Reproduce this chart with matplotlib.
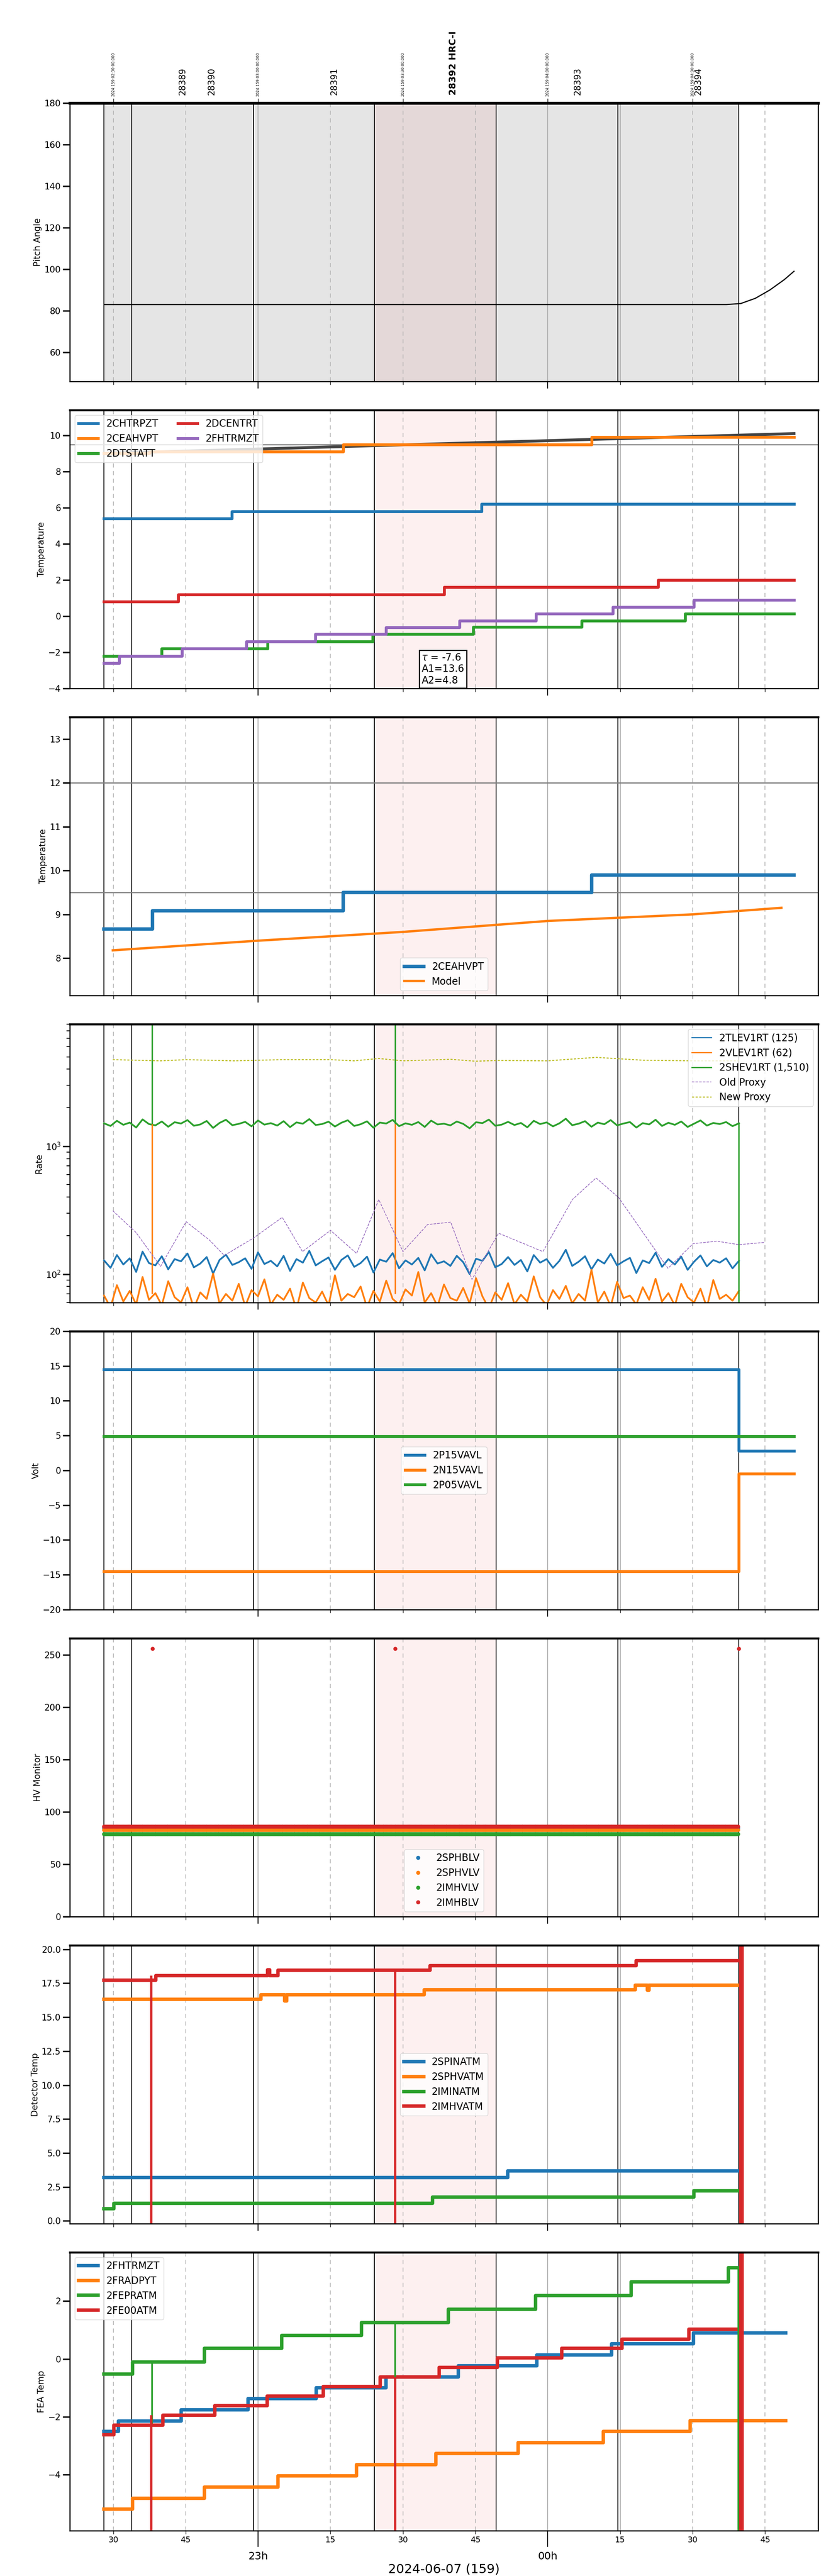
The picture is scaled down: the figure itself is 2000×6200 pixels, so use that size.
import matplotlib
matplotlib.use("Agg")
import matplotlib.pyplot as plt
import numpy as np

NARROW = ["Liberation Sans Narrow", "DejaVu Sans"]
plt.rcParams["font.family"] = ["DejaVu Sans"]

# time axis: minutes after 22:00 on 2024-06-07
xlim = (21.0, 176.0)
events = [28.1, 33.8, 59.0, 84.1, 109.3, 134.5, 159.6]
hrc_span = (84.1, 109.3)
stamp_t = [30, 60, 90, 120, 150]
stamp_lbl = ["2024:159:02:30:00.000", "2024:159:03:00:00.000", "2024:159:03:30:00.000",
             "2024:159:04:00:00.000", "2024:159:04:30:00.000"]
obsid_t = [44.4, 50.4, 75.8, 100.4, 126.2, 151.2]
obsid_lbl = ["28389", "28390", "28391", "28392 HRC-I", "28393", "28394"]

# panel 1: pitch
pitch_t = [28.1, 157.0, 160.0, 163.0, 166.0, 169.0, 171.0]
pitch_v = [83.0, 83.0, 83.5, 86.0, 90.0, 95.0, 99.0]

# panel 2: temperatures (step times, values)
t_chtrpzt = [28.1, 54.6, 106.3, 171]
v_chtrpzt = [5.4, 5.8, 6.2, 6.2]
t_ceahvpt = [28.1, 37.5, 77.6, 129.1, 171]
v_ceahvpt = [9.0, 9.1, 9.5, 9.9, 9.9]
t_dtstatt = [28.1, 40.0, 62.0, 83.7, 104.6, 127.0, 148.5, 171]
v_dtstatt = [-2.2, -1.8, -1.4, -1.0, -0.6, -0.25, 0.13, 0.13]
t_dcentrt = [28.1, 43.5, 98.5, 142.9, 171]
v_dcentrt = [0.8, 1.2, 1.6, 2.0, 2.0]
t_fhtrmzt = [28.1, 31.2, 44.2, 57.6, 71.9, 86.5, 101.7, 117.6, 133.5, 150.3, 171]
v_fhtrmzt = [-2.6, -2.2, -1.8, -1.4, -1.0, -0.62, -0.25, 0.13, 0.51, 0.9, 0.9]
model2_t = [28.1, 171.0]
model2_v = [9.0, 10.1]

# panel 3
t_ceah3 = [28.1, 38.1, 77.6, 129.1, 171]
v_ceah3 = [8.67, 9.08, 9.5, 9.9, 9.9]
model3_t = [29.9, 60, 90, 120, 150, 168.4]
model3_v = [8.18, 8.40, 8.60, 8.85, 9.00, 9.15]

# panel 4: rates
rate_blue = [128,112,141,119,133,104,150,122,117,138,109,131,126,145,113,121,136,101,129,142,
             118,124,133,110,148,120,127,115,139,106,131,123,152,117,126,135,108,129,140,114,
             122,137,103,130,125,146,111,128,119,134,107,143,121,126,116,139,124,100,132,127,
             149,113,120,136,118,129,105,141,123,131,112,127,155,116,125,138,109,130,121,144,
             117,126,134,102,128,122,147,114,131,119,137,108,125,140,115,129,123,133,111,127]
rate_orange = [68,55,82,61,74,58,95,63,71,57,88,66,60,79,54,72,64,101,59,70,62,84,56,75,67,
               91,58,69,63,77,53,86,65,60,73,57,98,62,70,66,80,55,74,61,89,64,58,76,68,104,
               60,71,56,83,65,62,78,59,93,67,54,72,63,85,58,69,61,96,66,57,75,64,81,59,70,
               62,108,60,73,56,87,65,68,58,79,63,92,61,71,57,84,66,60,77,55,90,64,69,62,74]
rate_green = [1510,1440,1580,1470,1530,1400,1620,1490,1455,1560,1420,1540,1505,1600,1445,1480,
              1575,1390,1520,1610,1460,1495,1550,1430,1590,1475,1515,1450,1570,1410,1535,1500,
              1630,1465,1490,1555,1425,1525,1595,1440,1485,1565,1395,1530,1505,1605,1435,1510,
              1470,1545,1415,1585,1480,1500,1455,1560,1495,1380,1540,1515,1615,1445,1475,1550,
              1465,1520,1405,1580,1490,1535,1430,1510,1640,1460,1500,1570,1420,1530,1485,1600,
              1455,1505,1545,1400,1515,1480,1610,1440,1525,1470,1560,1415,1500,1590,1450,1520,
              1490,1545,1435,1510]
rate_spike_t = [38.0, 88.4]
old_t = [29.9, 34.7, 39.8, 45.1, 49.9, 53.0, 59.0, 65.0, 69.2, 75.0, 80.4, 85.0, 90.0, 95.1,
         99.9, 104.3, 109.8, 119.0, 125.1, 130.0, 134.7, 144.9, 150.1, 155.0, 159.6, 164.9]
old_v = [313, 212, 115, 257, 185, 140, 191, 278, 150, 220, 145, 383, 150, 244,
         255, 91, 209, 150, 383, 565, 396, 111, 173, 181, 170, 177]
new_t = [29.9, 39.8, 45.1, 55.0, 65.1, 75.0, 79.9, 85.0, 90.0, 99.9, 105.0, 109.8, 120.0,
         130.0, 139.8, 150.1, 159.6]
new_v = [4750, 4650, 4750, 4650, 4750, 4750, 4650, 4850, 4650, 4780, 4620, 4680, 4650,
         4950, 4700, 4650, 4650]

# panel 5: voltages
volt_t = [28.1, 159.6, 171]
v_p15 = [14.5, 2.8, 2.8]
v_n15 = [-14.5, -0.5, -0.5]
v_p05 = [4.9, 4.9, 4.9]

# panel 6: HV monitor
hv_names = ["2SPHBLV", "2SPHVLV", "2IMHVLV", "2IMHBLV"]
hv_level = [85.0, 83.0, 79.0, 86.0]
hv_out_t = [38.1, 88.4, 159.6]
hv_out_v = [256, 256, 256]

# panel 7: detector temps
t_spinatm = [28.1, 111.7, 159.6]
v_spinatm = [3.2, 3.67, 3.67]
t_sphvatm = [28.1, 60.6, 65.5, 65.9, 94.4, 138.1, 140.6, 141.0, 159.6]
v_sphvatm = [16.33, 16.67, 16.2, 16.67, 17.03, 17.37, 17.0, 17.37, 17.37]
t_iminatm = [28.1, 30.1, 96.1, 150.3, 159.6]
v_iminatm = [0.9, 1.3, 1.77, 2.2, 2.2]
t_imhvatm = [28.1, 38.8, 62.0, 62.4, 64.1, 95.6, 138.3, 159.6]
v_imhvatm = [17.74, 18.07, 18.5, 18.07, 18.47, 18.8, 19.17, 19.17]
det_spike_t = [37.9, 88.4]

# panel 8: FEA temps
t_fht = [28.1, 31.1, 44.1, 57.9, 72.0, 86.5, 101.5, 117.7, 133.2, 150.2, 169.3]
v_fht = [-2.5, -2.14, -1.76, -1.37, -1.0, -0.62, -0.23, 0.14, 0.53, 0.9, 0.9]
t_frad = [28.1, 34.0, 48.9, 64.1, 80.4, 96.8, 113.9, 131.5, 149.5, 169.3]
v_frad = [-5.2, -4.82, -4.43, -4.05, -3.66, -3.27, -2.89, -2.5, -2.13, -2.13]
t_fepr = [28.1, 34.0, 48.9, 64.9, 81.4, 99.4, 117.5, 137.3, 157.4, 159.4]
v_fepr = [-0.53, -0.10, 0.37, 0.82, 1.26, 1.72, 2.19, 2.67, 3.16, 3.16]
t_fe00 = [28.1, 30.1, 40.3, 51.0, 61.9, 73.5, 85.3, 97.5, 109.6, 122.9, 135.4, 149.2, 159.6]
v_fe00 = [-2.62, -2.29, -1.95, -1.61, -1.28, -0.95, -0.62, -0.29, 0.04, 0.37, 0.69, 1.03, 1.03]
fea_green_dip_t = [38.0, 88.4]
fea_green_dip_v = [-2.23, -0.62]

C = plt.rcParams["axes.prop_cycle"].by_key()["color"]
blue, orange, green, red, purple = C[0], C[1], C[2], C[3], C[4]

fig, axes = plt.subplots(8, 1, figsize=(20, 62), dpi=100, sharex=True)
fig.subplots_adjust(left=0.084, right=0.9845, top=0.96, bottom=0.0176, hspace=0.103)


def decorate(ax, first=False):
    ax.set_xlim(*xlim)
    if first:
        ax.axvspan(events[0], hrc_span[0], color="#e5e5e5", zorder=0)
        ax.axvspan(hrc_span[0], hrc_span[1], color="#e4d8d8", zorder=0)
        ax.axvspan(hrc_span[1], events[-1], color="#e5e5e5", zorder=0)
    else:
        ax.axvspan(hrc_span[0], hrc_span[1], color="#fdf0f0", zorder=0)
    for m in [30, 45, 75, 90, 105, 135, 150, 165]:
        ax.axvline(m, color="#b0b0b0", ls=(0, (6, 5)), lw=1.2, zorder=0.5)
    for m in [60, 120, 135]:
        ax.axvline(m, color="#b0b0b0", lw=1.5, zorder=0.5)
    for e in events:
        ax.axvline(e, color="black", lw=1.5, zorder=0.6)
    ax.tick_params(axis="y", which="major", length=12, width=2.5, labelsize=15)
    ax.tick_params(axis="y", which="minor", length=6, width=1.5)
    ax.tick_params(axis="x", which="major", length=12, width=1.5)
    ax.tick_params(axis="x", which="minor", length=6, width=1)
    for lbl in ax.get_yticklabels():
        lbl.set_family(NARROW)
    for s in ax.spines.values():
        s.set_linewidth(2)
    ax.spines["top"].set_linewidth(3.5)


def step(ax, t, v, **kw):
    ax.step(t, v, where="post", **kw)


# 1
ax = axes[0]
decorate(ax, first=True)
ax.plot(pitch_t, pitch_v, color="black", lw=2)
ax.set_ylim(46, 180)
ax.set_yticks(range(60, 181, 20))
ax.set_ylabel("Pitch Angle", fontsize=15)
ax.spines["top"].set_linewidth(5)
sec = ax.secondary_xaxis("top")
sec.set_xticks(stamp_t)
sec.set_xticklabels(stamp_lbl, rotation=90, fontsize=6.5)
sec.tick_params(length=8, width=1)
for t, s in zip(obsid_t, obsid_lbl):
    ax.text(t, 1.028, s, transform=ax.get_xaxis_transform(), rotation=90, ha="center", va="bottom",
            fontsize=15 if "HRC" not in s else 16, fontweight="bold" if "HRC" in s else "normal")
for lbl in ax.get_yticklabels():
    lbl.set_family(NARROW)

# 2
ax = axes[1]
decorate(ax)
ax.axhline(9.5, color="gray", lw=2)
ax.plot(model2_t, model2_v, color="#444444", lw=5)
step(ax, t_chtrpzt, v_chtrpzt, color=blue, lw=5, label="2CHTRPZT")
step(ax, t_ceahvpt, v_ceahvpt, color=orange, lw=5, label="2CEAHVPT")
step(ax, t_dtstatt, v_dtstatt, color=green, lw=5, label="2DTSTATT")
step(ax, t_dcentrt, v_dcentrt, color=red, lw=5, label="2DCENTRT")
step(ax, t_fhtrmzt, v_fhtrmzt, color=purple, lw=5, label="2FHTRMZT")
ax.set_ylim(-4, 11.4)
ax.set_yticks(range(-4, 11, 2))
ax.set_ylabel("Temperature", fontsize=15)
ax.legend(loc="upper left", ncol=2, prop={"family": NARROW, "size": 17})
ax.text(0.47, 0.01, "$\\tau$ = -7.6\nA1=13.6\nA2=4.8", transform=ax.transAxes, fontsize=17,
        family=NARROW, va="bottom", ha="left", bbox=dict(facecolor="white", edgecolor="black", lw=2))

# 3
ax = axes[2]
decorate(ax)
ax.axhline(12, color="gray", lw=2)
ax.axhline(9.5, color="gray", lw=2)
step(ax, t_ceah3, v_ceah3, color=blue, lw=6, label="2CEAHVPT")
ax.plot(model3_t, model3_v, color=orange, lw=4, label="Model")
ax.set_ylim(7.15, 13.5)
ax.set_yticks(range(8, 14))
ax.set_ylabel("Temperature", fontsize=15)
ax.legend(loc="lower center", prop={"family": NARROW, "size": 17})

# 4
ax = axes[3]
decorate(ax)
rt = np.linspace(events[0], events[-1], len(rate_blue))
ax.plot(rt, rate_blue, color=blue, lw=3, label="2TLEV1RT (125)")
ax.plot(rt, rate_orange, color=orange, lw=3, label="2VLEV1RT (62)")
ax.plot(rt, rate_green, color=green, lw=3, label="2SHEV1RT (1,510)")
ax.vlines(rate_spike_t, 1500, 10000, color=green, lw=2.5)
ax.vlines(rate_spike_t, 70, 1500, color=orange, lw=2.5)
ax.vlines([events[-1]], 10, 1500, color=green, lw=2.5)
ax.plot(old_t, old_v, color=purple, ls="--", lw=1.2, label="Old Proxy")
ax.plot(new_t, new_v, color="#bcbd22", ls=(0, (2, 1.5)), lw=1.8, label="New Proxy")
ax.set_yscale("log")
ax.set_ylim(60, 9000)
ax.set_ylabel("Rate", fontsize=15)
leg = ax.legend(loc="upper right", prop={"family": NARROW, "size": 17})
for ln in leg.get_lines()[:3]:
    ln.set_linewidth(2)
ax.tick_params(axis="y", which="major", length=12, width=2.5, labelsize=15)
ax.tick_params(axis="y", which="minor", length=6, width=1.5, labelleft=False)

# 5
ax = axes[4]
decorate(ax)
step(ax, volt_t, v_p15, color=blue, lw=5, label="2P15VAVL")
step(ax, volt_t, v_n15, color=orange, lw=5, label="2N15VAVL")
step(ax, volt_t, v_p05, color=green, lw=5, label="2P05VAVL")
ax.set_ylim(-20, 20)
ax.set_yticks(range(-20, 21, 5))
ax.set_ylabel("Volt", fontsize=15)
ax.legend(loc="center", prop={"family": NARROW, "size": 17})

# 6
ax = axes[5]
decorate(ax)
ht = np.arange(events[0], events[-1], 0.25)
for name, lvl, col in zip(hv_names, hv_level, [blue, orange, green, red]):
    ax.plot(ht, np.full(len(ht), lvl), ".", color=col, ms=12, label=name)
ax.plot(hv_out_t, hv_out_v, ".", color=red, ms=12)
ax.set_ylim(0, 266)
ax.set_yticks(range(0, 251, 50))
ax.set_ylabel("HV Monitor", fontsize=15)
ax.legend(loc="lower center", prop={"family": NARROW, "size": 17})

# 7
ax = axes[6]
decorate(ax)
step(ax, t_spinatm, v_spinatm, color=blue, lw=6, label="2SPINATM")
step(ax, t_sphvatm, v_sphvatm, color=orange, lw=6, label="2SPHVATM")
step(ax, t_iminatm, v_iminatm, color=green, lw=6, label="2IMINATM")
step(ax, t_imhvatm, v_imhvatm, color=red, lw=6, label="2IMHVATM")
ax.vlines(det_spike_t, -5, [18.07, 18.47], color=red, lw=4)
ax.vlines([160.1], -5, 30, color=red, lw=8)
ax.set_ylim(-0.2, 20.3)
ax.set_yticks(np.arange(0, 20.1, 2.5))
ax.set_ylabel("Detector Temp", fontsize=15)
ax.legend(loc="center", prop={"family": NARROW, "size": 17})

# 8
ax = axes[7]
decorate(ax)
step(ax, t_fht, v_fht, color=blue, lw=6, label="2FHTRMZT")
step(ax, t_frad, v_frad, color=orange, lw=6, label="2FRADPYT")
step(ax, t_fepr, v_fepr, color=green, lw=6, label="2FEPRATM")
step(ax, t_fe00, v_fe00, color=red, lw=6, label="2FE00ATM")
ax.vlines(fea_green_dip_t, fea_green_dip_v, [-0.10, 1.26], color=green, lw=3)
ax.vlines([159.5], -8, 3.16, color=green, lw=3)
ax.vlines(det_spike_t, -8, [-1.95, -0.62], color=red, lw=4)
ax.vlines([160.1], -8, 8, color=red, lw=8)
ax.set_ylim(-5.94, 3.69)
ax.set_yticks([-4, -2, 0, 2])
ax.set_ylabel("FEA Temp", fontsize=15)
ax.legend(loc="upper left", prop={"family": NARROW, "size": 17})

ax.set_xticks([60, 120])
ax.set_xticklabels(["23h", "00h"], family=NARROW, fontsize=18)
ax.set_xticks([30, 45, 75, 90, 105, 135, 150, 165], minor=True)
ax.set_xticklabels(["30", "45", "15", "30", "45", "15", "30", "45"], minor=True, family=NARROW, fontsize=14)
ax.tick_params(axis="x", which="major", length=28, pad=8)
ax.set_xlabel("2024-06-07 (159)", fontsize=22, family=NARROW)

fig.savefig("out.png", dpi=100)
